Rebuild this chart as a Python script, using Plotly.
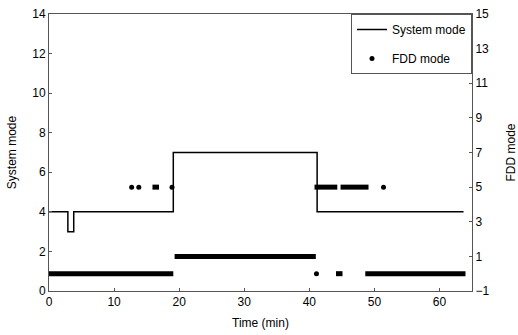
import plotly.graph_objects as go

# System mode (step signal): time (min) and value
sys_t = [0, 2.9, 2.9, 3.8, 3.8, 19.1, 19.1, 41.2, 41.2, 63.7]
sys_v = [4, 4, 3, 3, 4, 4, 7, 7, 4, 4]

# FDD mode: continuous runs of samples (start, end, value)
run_start = [0.0, 19.3, 40.8, 44.8, 44.1, 48.6, 15.9]
run_end = [19.1, 41.0, 44.3, 49.1, 45.1, 64.0, 16.9]
run_value = [0, 1, 5, 5, 0, 0, 5]

# FDD mode: isolated samples
dot_t = [12.7, 13.8, 18.9, 51.4, 41.1]
dot_v = [5, 5, 5, 5, 0]

FONT = "Liberation Sans, Arial, sans-serif"

rx, ry = [], []
for s, e, v in zip(run_start, run_end, run_value):
    rx += [s, e, None]
    ry += [v, v, None]

fig = go.Figure()
fig.add_trace(go.Scatter(x=sys_t, y=sys_v, mode="lines", name="System mode",
                         legendgroup="a",
                         line=dict(color="black", width=1.5), yaxis="y"))
fig.add_trace(go.Scatter(x=dot_t, y=dot_v, mode="markers", name="FDD mode",
                         legendgroup="b",
                         marker=dict(color="black", size=5), yaxis="y2"))
fig.add_trace(go.Scatter(x=rx, y=ry, mode="lines", showlegend=False,
                         legendgroup="b",
                         line=dict(color="black", width=5), yaxis="y2"))

axis_common = dict(showgrid=False, zeroline=False, showline=True, linecolor="#555",
                   linewidth=1, ticks="inside", ticklen=3, tickcolor="#555",
                   automargin=False,
                   tickfont=dict(family=FONT, size=12, color="black"))

fig.update_layout(
    width=518, height=335,
    margin=dict(l=49, r=46, t=14, b=44),
    paper_bgcolor="white", plot_bgcolor="white",
    font=dict(family=FONT, size=12, color="black"),
    xaxis=dict(range=[0, 65], tickvals=[0, 10, 20, 30, 40, 50, 60],
               title=dict(text="Time (min)", font=dict(size=12), standoff=10),
               mirror=True, **axis_common),
    yaxis=dict(range=[0, 14], tickvals=[0, 2, 4, 6, 8, 10, 12, 14],
               title=dict(text="System mode", font=dict(size=12), standoff=13),
               **axis_common),
    yaxis2=dict(range=[-1, 15], tickvals=[-1, 1, 3, 5, 7, 9, 11, 13, 15],
                overlaying="y", side="right",
                title=dict(text="FDD mode", font=dict(size=12), standoff=22),
                **axis_common),
    legend=dict(x=1, y=1, xanchor="right", yanchor="top",
                bordercolor="#555", borderwidth=1, bgcolor="white",
                font=dict(family=FONT, size=12), itemwidth=30,
                traceorder="grouped", tracegroupgap=10),
    showlegend=True,
)

fig.write_html("out.html")
